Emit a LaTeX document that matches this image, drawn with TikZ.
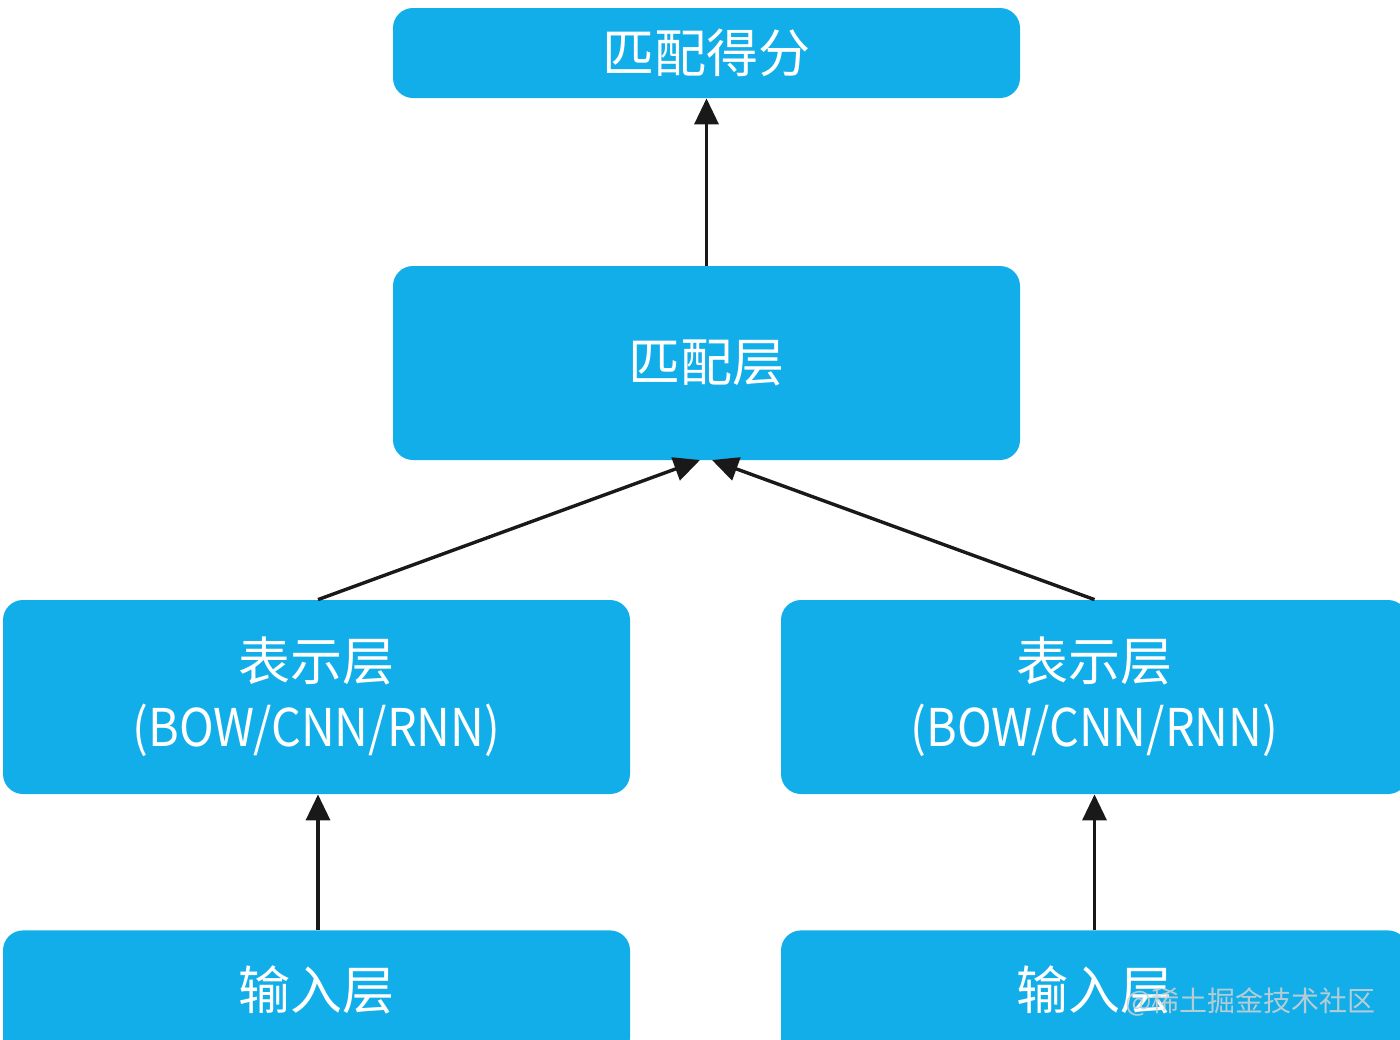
\documentclass[tikz,border=0pt]{standalone}
\usepackage{fontspec}
\setmainfont{Noto Sans CJK SC}
\usetikzlibrary{arrows.meta}
\definecolor{boxblue}{HTML}{12AEEA}
\tikzset{
  layer/.style={fill=boxblue, draw=none, rounded corners=10pt, text=white,
    font=\fontsize{26pt}{33pt}\selectfont, align=center, inner sep=0pt,
    minimum width=313.5pt},
  conn/.style={line width=1.7pt, draw=black!90, -{Triangle[length=13pt,width=12pt]}},
}
\newcommand{\narrowline}[1]{\scalebox{0.9}[1]{#1}}
\begin{document}
\begin{tikzpicture}[x=0.5pt,y=-0.5pt]
\useasboundingbox (0,0) rectangle (1400,1039);
\clip (0,0) rectangle (1400,1039);
\node[layer, minimum height=45pt] (score) at (706.5,53) {匹配得分};
\node[layer, minimum height=97pt] (match) at (706.5,363) {匹配层};
\node[layer, minimum height=97pt] (repL) at (316.5,697) {表示层\\\narrowline{(BOW/CNN/RNN)}};
\node[layer, minimum height=97pt] (repR) at (1094.5,697) {表示层\\\narrowline{(BOW/CNN/RNN)}};
\node[layer, minimum height=64pt, anchor=north] (inL) at (316.5,930) {};
\node[layer, minimum height=64pt, anchor=north] (inR) at (1094.5,930) {};
\node[text=white, font=\fontsize{26pt}{33pt}\selectfont] (inLt) at (316.5,990) {输入层};
\node[text=white, font=\fontsize{26pt}{33pt}\selectfont] (inRt) at (1094.5,990) {输入层};
\node[text=gray!35, opacity=0.85, font=\fontsize{14pt}{16pt}\selectfont, anchor=east] (wm) at (1383,1002) {@稀土掘金技术社区};
\coordinate (mL) at (700,460);
\coordinate (mR) at (712,460);
\draw[conn] (repL.north) ++(1.5,0) -- (mL);
\draw[conn] (repR.north) -- (mR);
\draw[conn] (match.north) -- (score.south);
\draw[conn] (inL.north) ++(1.5,0) -- ([xshift=0.75pt]repL.south);
\draw[conn] (inR.north) -- (repR.south);
\end{tikzpicture}
\end{document}
